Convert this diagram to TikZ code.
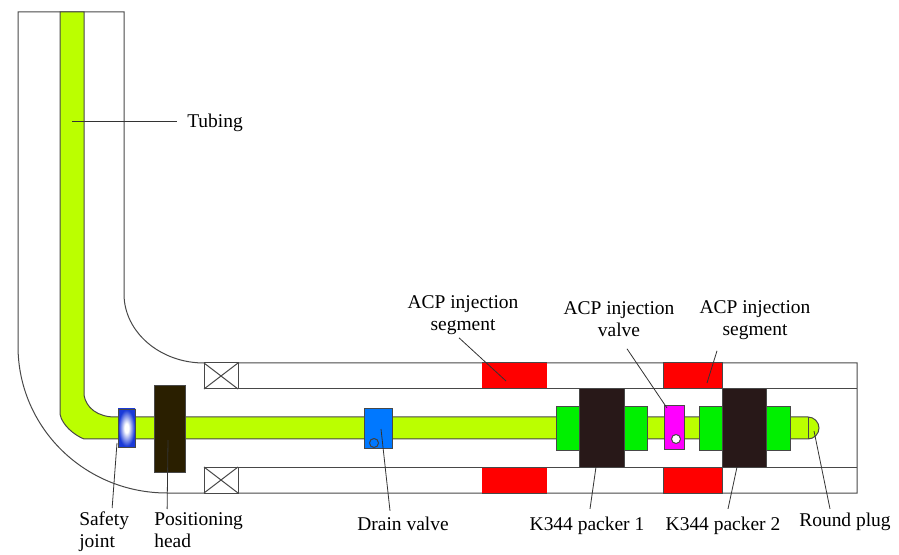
\documentclass[tikz,border=0pt]{standalone}
\usepackage{fontspec}
\setmainfont{Liberation Serif}
\definecolor{tubegreen}{HTML}{BBFF00}
\definecolor{headbrown}{HTML}{2A1F00}
\definecolor{packerblack}{HTML}{281818}
\definecolor{valveblue}{HTML}{0078FF}
\definecolor{sealgreen}{HTML}{00F000}
\definecolor{valvepink}{HTML}{FF00FF}
\definecolor{jointblue}{HTML}{1A3AD8}
\definecolor{linegray}{HTML}{484848}
\pgfdeclareradialshading{jointglow}{\pgfpoint{0bp}{0bp}}{color(0bp)=(white); color(6bp)=(white); color(24bp)=(jointblue); color(50bp)=(jointblue)}
\tikzset{
  wall/.style={draw=linegray, line width=0.75pt},
  part/.style={draw=linegray, line width=0.75pt, fill=#1},
  leader/.style={draw=black!80, line width=0.6pt},
  callout/.style={font=\fontsize{14.6}{16.5}\selectfont, align=#1, inner sep=0pt},
  callout/.default=center
}
\begin{document}
\begin{tikzpicture}[x=0.75pt, y=-0.75pt]
  \useasboundingbox (0,0) rectangle (899,555);
  % casing
  \draw[wall] (124,294) .. controls (124,332) and (160,363) .. (204,363) -- (857,363) -- (857,493) -- (167,493)
    .. controls (85,493) and (18,428) .. (18,346) -- (18,12) -- (124,12) -- cycle;
  \draw[wall] (204,389) -- (857,389);
  \draw[wall] (204,467) -- (857,467);
  % tubing
  \draw[part=tubegreen] (60,12) -- (84,12) -- (84,395) .. controls (86,408) and (98,417) .. (115,417) -- (808,417)
    .. controls (814,417) and (819,422) .. (819,428) .. controls (819,434) and (814,439) .. (808,439)
    -- (84,439) .. controls (74,435) and (62,425) .. (60,414) -- cycle;
  \draw[wall] (808,417) -- (808,439);
  % slips
  \foreach \ytop/\ybot in {363/389, 467/493} {
    \draw[part=white] (204,\ytop) rectangle (238,\ybot);
    \draw[wall] (204,\ytop) -- (238,\ybot);
    \draw[wall] (204,\ybot) -- (238,\ytop);
    \fill[red] (482,\ytop) rectangle (547,\ybot);
    \draw[wall] (482,\ytop) -- (547,\ytop) (482,\ybot) -- (547,\ybot);
    \draw[part=red] (663,\ytop) rectangle (722,\ybot);
  }
  % tools on the string
  \shade[shading=jointglow, draw=linegray, line width=0.4pt] (118,409) rectangle (135,447);
  \draw[part=headbrown] (154,386) rectangle (185,472);
  \draw[part=valveblue] (364,409) rectangle (392,449);
  \draw[wall, draw=black!75] (374,443) circle (4.5);
  \foreach \xa/\xb in {556/580, 624/647, 699/722, 766/790}
    \draw[part=sealgreen] (\xa,407) rectangle (\xb,451);
  \foreach \xa/\xb in {579/624, 722/766}
    \draw[part=packerblack] (\xa,389) rectangle (\xb,467);
  \draw[part=valvepink] (664,406) rectangle (684,450);
  \draw[part=white] (676,439) circle (4.5);
  % free ends of the leaders
  \coordinate (tubingEnd) at (72,121);
  \coordinate (jointEnd) at (117,443);
  \coordinate (headEnd) at (168,440);
  \coordinate (drainEnd) at (381,429);
  \coordinate (segLeftEnd) at (506,381);
  \coordinate (valveEnd) at (667,408);
  \coordinate (segRightEnd) at (707,383);
  \coordinate (packerOneEnd) at (596,467);
  \coordinate (packerTwoEnd) at (737,467);
  \coordinate (plugEnd) at (814,431);
  % labels
  \node[callout, anchor=west] (tubingLabel) at (187,123) {Tubing};
  \node[callout=left, anchor=north west] (jointLabel) at (79,511.5) {Safety\\joint};
  \node[callout=left, anchor=north west] (headLabel) at (154,512.5) {Positioning\\head};
  \node[callout] (drainLabel) at (403,523.5) {Drain valve};
  \node[callout] (segLeftLabel) at (463,315) {ACP injection\\segment};
  \node[callout] (valveLabel) at (619,319) {ACP injection\\valve};
  \node[callout] (segRightLabel) at (755,320) {ACP injection\\segment};
  \node[callout] (packerOneLabel) at (587,525.5) {K344 packer 1};
  \node[callout] (packerTwoLabel) at (723,525.5) {K344 packer 2};
  \node[callout] (plugLabel) at (845,521.5) {Round plug};
  % leaders
  \draw[leader, shorten >=7.5pt] (tubingEnd) -- (tubingEnd -| tubingLabel.west);
  \draw[leader] (jointLabel.north) ++(8,-3.5) -- (jointEnd);
  \draw[leader] (headLabel.north) ++(-31.5,-3.5) -- (headEnd);
  \draw[leader] (drainLabel.north) ++(-13,-5.5) -- (drainEnd);
  \draw[leader] (segLeftLabel.south) ++(-4,3) -- (segLeftEnd);
  \draw[leader] (valveLabel.south) ++(8,12) -- (valveEnd);
  \draw[leader] (segRightLabel.south) ++(-38,11) -- (segRightEnd);
  \draw[leader] (packerOneLabel.north) ++(3,-7.5) -- (packerOneEnd);
  \draw[leader] (packerTwoLabel.north) ++(5,-7.5) -- (packerTwoEnd);
  \draw[leader] (plugLabel.north) ++(-15,-3.5) -- (plugEnd);
\end{tikzpicture}
\end{document}
